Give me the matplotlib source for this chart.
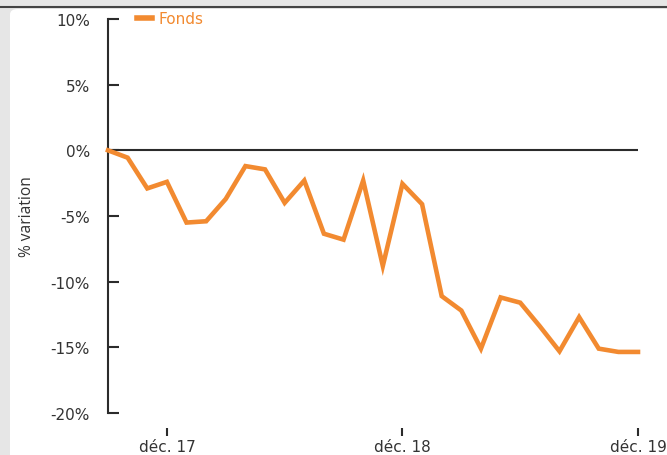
import matplotlib
matplotlib.use("Agg")
import matplotlib.pyplot as plt
from matplotlib.patches import FancyBboxPatch
from matplotlib.lines import Line2D

# monthly performance, sept 2017 -> dec 2019
months = [
    "sept. 17", "oct. 17", "nov. 17", "déc. 17", "janv. 18", "févr. 18",
    "mars 18", "avr. 18", "mai 18", "juin 18", "juil. 18", "août 18",
    "sept. 18", "oct. 18", "nov. 18", "déc. 18", "janv. 19", "févr. 19",
    "mars 19", "avr. 19", "mai 19", "juin 19", "juil. 19", "août 19",
    "sept. 19", "oct. 19", "nov. 19", "déc. 19",
]
fonds = [
    0.0, -0.56, -2.9, -2.4, -5.5, -5.4, -3.7, -1.2, -1.45, -4.0,
    -2.3, -6.35, -6.8, -2.3, -8.8, -2.55, -4.1, -11.1, -12.2, -15.1,
    -11.2, -11.6, -13.4, -15.3, -12.7, -15.1, -15.35, -15.35,
]
tick_labels = ["déc. 17", "déc. 18", "déc. 19"]
y_ticks = [10, 5, 0, -5, -10, -15, -20]

orange = "#f28a30"
dark = "#2b2b2b"
text_col = "#333333"

fig = plt.figure(figsize=(6.67, 4.56), dpi=100, facecolor="#e6e6e6")

# white card behind the chart
card = FancyBboxPatch(
    (10 / 667, -0.05), 1.2, 1 - 10 / 456 + 0.05,
    boxstyle="round,pad=0,rounding_size=0.012",
    transform=fig.transFigure, facecolor="white", edgecolor="none", zorder=-5,
)
fig.patches.append(card)
fig.lines.append(Line2D([0, 1], [1 - 7.5 / 456] * 2, transform=fig.transFigure,
                        color="#444444", lw=1.5, zorder=-4))

ax = fig.add_axes([108 / 667, 1 - 414 / 456, 530 / 667, 394 / 456])
ax.set_facecolor("none")

x = list(range(len(months)))
ax.plot(x, fonds, color=orange, lw=3.3, solid_joinstyle="miter", label="Fonds",
        zorder=3, clip_on=False)
ax.axhline(0, color=dark, lw=1.5, zorder=2)

ax.set_xlim(0, len(months) - 1)
ax.set_ylim(-20, 10)

ax.set_yticks(y_ticks)
ax.set_yticklabels([f"{v}%" for v in y_ticks])
tick_pos = [months.index(t) for t in tick_labels]
ax.set_xticks(tick_pos)
ax.set_xticklabels(tick_labels)

for s in ["top", "right"]:
    ax.spines[s].set_visible(False)
ax.spines["left"].set_color(dark)
ax.spines["left"].set_linewidth(1.5)
ax.spines["bottom"].set_position(("outward", 11))
ax.spines["bottom"].set_color("none")

ax.tick_params(axis="y", direction="in", length=8, width=1.5, color=dark,
               pad=13, labelsize=11, labelcolor=text_col)
ax.tick_params(axis="x", direction="out", length=6, width=1.5, color=dark,
               pad=2, labelsize=11, labelcolor=text_col)

ax.set_ylabel("% variation", family="Open Sans", fontsize=11.2, color=text_col)
ax.yaxis.set_label_coords(-0.138, 0.5)

leg = ax.legend(loc="center left", bbox_to_anchor=(0.054, 1.0), frameon=False,
                fontsize=11, handlelength=1.0, handletextpad=0.4, borderpad=0,
                borderaxespad=0, labelcolor=orange)
leg.get_lines()[0].set_linewidth(4)

fig.savefig("out.png", dpi=100, facecolor=fig.get_facecolor())
